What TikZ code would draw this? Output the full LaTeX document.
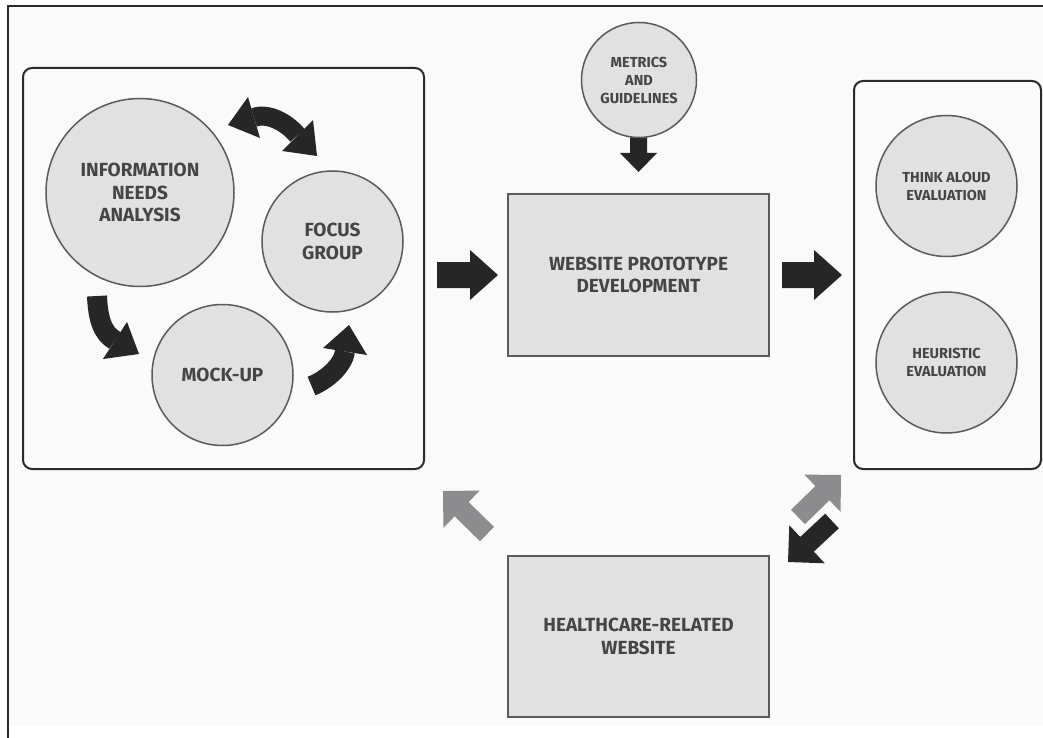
\documentclass[tikz,border=0pt]{standalone}
\usepackage{fontspec}
\setmainfont{Fira Sans}
\usetikzlibrary{calc}
\definecolor{bg}{HTML}{FAFAFA}
\definecolor{framec}{HTML}{2A2A2A}
\definecolor{shapefill}{HTML}{E1E1E1}
\definecolor{shapeline}{HTML}{5A5A5A}
\definecolor{txt}{HTML}{454545}
\definecolor{darkarr}{HTML}{262626}
\definecolor{lightarr}{HTML}{8C8C8E}
% block arrow: colour, tail, tip, half body, half head, head length
\newcommand{\barrow}[6]{%
  \path ($(#3)!#6!(#2)$) coordinate (hb);
  \fill[#1] ($(#2)!#4!90:(#3)$) -- ($(hb)!#4!90:(#3)$) -- ($(hb)!#5!90:(#3)$) -- (#3)
    -- ($(hb)!#5!-90:(#3)$) -- ($(hb)!#4!-90:(#3)$) -- ($(#2)!#4!-90:(#3)$) -- cycle;
}
\tikzset{
  grpbox/.style={draw=framec, line width=2pt, rounded corners=9pt, inner sep=0pt},
  circ/.style={circle, draw=shapeline, fill=shapefill, line width=1.5pt, inner sep=0pt, align=center, text=txt},
  rectbox/.style={rectangle, draw=shapeline, fill=shapefill, line width=1.5pt, inner sep=0pt, align=center, text=txt},
  bigtxt/.style={font=\bfseries\fontsize{19}{22.5}\selectfont},
  smalltxt/.style={font=\bfseries\fontsize{14.5}{18}\selectfont},
}
\begin{document}
\begin{tikzpicture}[x=1pt,y=-1pt]
\useasboundingbox (0,0) rectangle (1043,738);
\fill[white] (0,0) rectangle (1043,738);
\fill[bg] (8,6) rectangle (1043,726);
\draw[framec, line width=2pt] (1043,6) -- (8,6) -- (8,738);

% group boxes
\node[grpbox, minimum width=401pt, minimum height=401pt] (leftbox) at (223.5,268.5) {};
\node[grpbox, minimum width=187pt, minimum height=388pt] (rightbox) at (947.5,275) {};

% curved arrows in the left group
\coordinate (aS) at (97,296);
\coordinate (aB) at (115,340.5);
\coordinate (aT) at (139,354);
\draw[darkarr, line width=20pt] (aS) .. controls (98,318) and (102,333) .. (aB);
\fill[darkarr] (127,322) -- (aT) -- (103,359) -- cycle;

\coordinate (bS) at (311.5,386);
\coordinate (bB) at (345,351.5);
\coordinate (bT) at (349,325);
\draw[darkarr, line width=20pt] (bS) .. controls (325.5,380.6) and (342.8,366.3) .. (bB);
\fill[darkarr] (323,348) -- (bT) -- (367,355) -- cycle;

\coordinate (cL) at (254,117.5);
\coordinate (cR) at (297.5,135.5);
\coordinate (cTL) at (228,125);
\coordinate (cTR) at (317,156);
\draw[darkarr, line width=19pt] (cL) .. controls (268.4,112) and (288,123.5) .. (cR);
\fill[darkarr] (248,97) -- (cTL) -- (260,138) -- cycle;
\fill[darkarr] (313,120) -- (cTR) -- (282,151) -- cycle;

% metrics arrow (under the circle)
\coordinate (mS) at (638.5,125);
\coordinate (mT) at (638.5,172);
\barrow{darkarr}{mS}{mT}{8.5pt}{18.5pt}{19pt}

% nodes
\node[circ, minimum size=188pt, bigtxt] (info) at (140,192.5) {INFORMATION\\NEEDS\\ANALYSIS};
\node[circ, minimum size=141pt, bigtxt] (focus) at (332.5,241.5) {FOCUS\\GROUP};
\node[circ, minimum size=141pt, bigtxt] (mockup) at (222.5,375) {MOCK-UP};
\node[circ, minimum size=115pt, smalltxt] (metrics) at (639,80) {METRICS\\AND\\GUIDELINES};
\node[rectbox, minimum width=261pt, minimum height=162pt, bigtxt] (proto) at (638.5,275) {WEBSITE PROTOTYPE\\DEVELOPMENT};
\node[circ, minimum size=141pt, smalltxt] (think) at (946.5,186) {THINK ALOUD\\EVALUATION};
\node[circ, minimum size=141pt, smalltxt] (heur) at (946.5,362.5) {HEURISTIC\\EVALUATION};
\node[rectbox, minimum width=261pt, minimum height=161pt, bigtxt] (health) at (638.5,636.5) {HEALTHCARE-RELATED\\WEBSITE};

% straight block arrows
\coordinate (lT) at (437,275);
\coordinate (lH) at (498,275);
\barrow{darkarr}{lT}{lH}{13pt}{25pt}{28pt}
\coordinate (rT) at (782,275);
\coordinate (rH) at (842,275);
\barrow{darkarr}{rT}{rH}{13pt}{25pt}{28pt}

% diagonal arrows
\coordinate (gT) at (487,534);
\coordinate (gH) at (443,491);
\barrow{lightarr}{gT}{gH}{10pt}{26pt}{26pt}
\coordinate (uT) at (798,517);
\coordinate (uH) at (841,475);
\barrow{lightarr}{uT}{uH}{10pt}{26pt}{26pt}
\coordinate (dT) at (832,521);
\coordinate (dH) at (788,562);
\barrow{darkarr}{dT}{dH}{10pt}{26pt}{26pt}
\end{tikzpicture}
\end{document}
